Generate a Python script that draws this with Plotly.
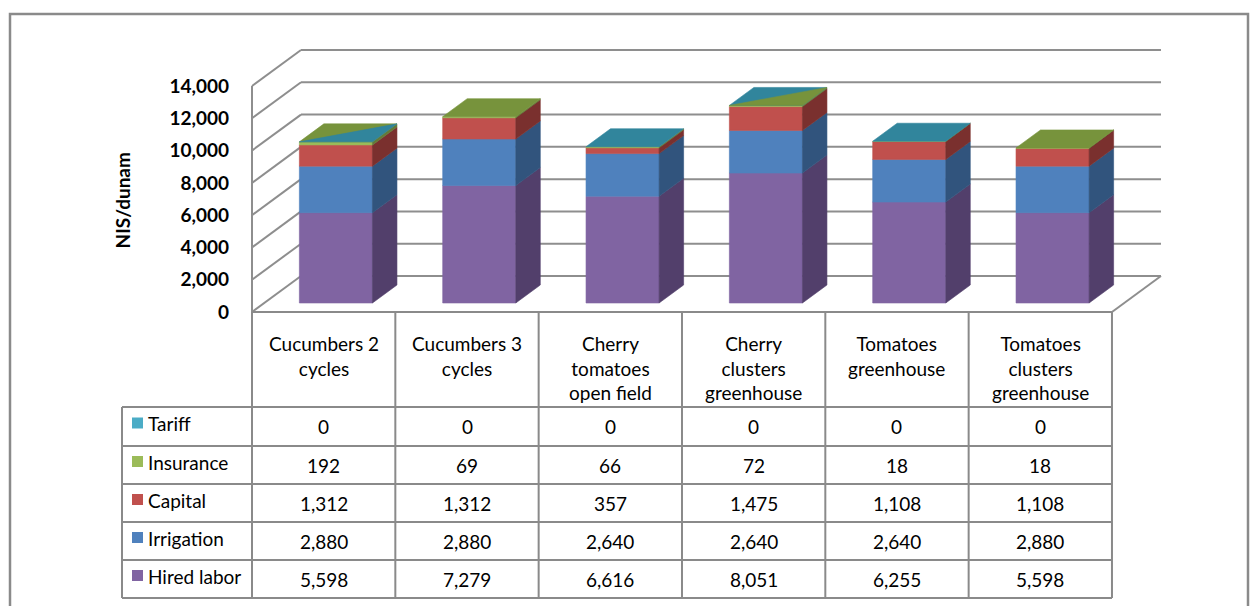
import plotly.graph_objects as go

# ---- data -------------------------------------------------------------
categories = [
    "Cucumbers 2<br>cycles",
    "Cucumbers 3<br>cycles",
    "Cherry<br>tomatoes<br>open field",
    "Cherry<br>clusters<br>greenhouse",
    "Tomatoes<br>greenhouse",
    "Tomatoes<br>clusters<br>greenhouse",
]
hired_labor = [5598, 7279, 6616, 8051, 6255, 5598]
irrigation = [2880, 2880, 2640, 2640, 2640, 2880]
capital = [1312, 1312, 357, 1475, 1108, 1108]
insurance = [192, 69, 66, 72, 18, 18]
tariff = [0, 0, 0, 0, 0, 0]
y_ticks = [0, 2000, 4000, 6000, 8000, 10000, 12000, 14000]
y_max = 14000

# stacking order, bottom to top
series = [
    ("Hired labor", hired_labor),
    ("Irrigation", irrigation),
    ("Capital", capital),
    ("Insurance", insurance),
    ("Tariff", tariff),
]

# ---- styling ----------------------------------------------------------
front_color = {
    "Hired labor": "#8064A2",
    "Irrigation": "#4F81BD",
    "Capital": "#C0504D",
    "Insurance": "#9BBB59",
    "Tariff": "#4BACC6",
}
side_color = {
    "Hired labor": "#523F6B",
    "Irrigation": "#31547D",
    "Capital": "#7A302E",
    "Insurance": "#637A38",
    "Tariff": "#2F7285",
}
OLIVE_TOP = "#77933C"
TEAL_TOP = "#31859C"
# top face of each column: base colour and an optional diagonal half
top_base = [OLIVE_TOP, OLIVE_TOP, TEAL_TOP, TEAL_TOP, TEAL_TOP, OLIVE_TOP]
top_half = [TEAL_TOP, None, None, OLIVE_TOP, None, None]

GRID = "#8E8E8E"
FONT = "Lato"
FS = 19

# ---- geometry (figure pixels -> axis units) ---------------------------
W, H = 1250, 606
X_PX0 = 252.0          # left edge of the floor front
SLOT = 143.33          # pixels per category
Y_PX0 = 312.0          # floor front line
PX_PER = 226.0 / y_max  # pixels per value unit on the front plane

x_range = [(0 - X_PX0) / SLOT, (W - X_PX0) / SLOT]
y_range = [-(H - Y_PX0) / PX_PER, Y_PX0 / PX_PER]

DX = 49.0 / SLOT       # floor depth, x component
DY = 36.0 / PX_PER     # floor depth, y component
HALF = 0.255           # half bar width (category units)
D0, D1 = 0.25, 0.75    # bar depth span as fraction of floor depth


def px_x(px):
    return (px - X_PX0) / SLOT


def paper_y(py):
    return 1 - py / H


n = len(categories)
fig = go.Figure()

# ---- walls and floor --------------------------------------------------
wx, wy = [], []
for v in y_ticks:
    wx += [DX, n + DX, None]
    wy += [v + DY, v + DY, None]
    wx += [0, DX, None]
    wy += [v, v + DY, None]
wx += [0, 0, None, n, n + DX, None]
wy += [0, y_max, None, 0, DY, None]
fig.add_trace(go.Scatter(x=wx, y=wy, mode="lines",
                         line=dict(color=GRID, width=2),
                         hoverinfo="skip", showlegend=False))

# ---- stacked 3-D columns ----------------------------------------------
base = [0.0] * n
for name, vals in series:
    fx, fy, sx, sy = [], [], [], []
    for i, v in enumerate(vals):
        if v <= 0:
            continue
        c = i + 0.5
        b, t = base[i], base[i] + v
        xl = c - HALF + D0 * DX
        xr = c + HALF + D0 * DX
        fx += [xl, xr, xr, xl, xl, None]
        fy += [b + D0 * DY, b + D0 * DY, t + D0 * DY, t + D0 * DY, b + D0 * DY, None]
        xb = c + HALF + D1 * DX
        sx += [xr, xb, xb, xr, xr, None]
        sy += [b + D0 * DY, b + D1 * DY, t + D1 * DY, t + D0 * DY, b + D0 * DY, None]
        base[i] = t
    for xs, ys, col in ((fx, fy, front_color[name]), (sx, sy, side_color[name])):
        if xs:
            fig.add_trace(go.Scatter(x=xs, y=ys, mode="lines", fill="toself",
                                     fillcolor=col, line=dict(color=col, width=0.6),
                                     hoverinfo="skip", showlegend=False))

# top faces
for i in range(n):
    c = i + 0.5
    T = base[i]
    fl = (c - HALF + D0 * DX, T + D0 * DY)
    fr = (c + HALF + D0 * DX, T + D0 * DY)
    br = (c + HALF + D1 * DX, T + D1 * DY)
    bl = (c - HALF + D1 * DX, T + D1 * DY)
    quad = [fl, fr, br, bl, fl]
    fig.add_trace(go.Scatter(x=[p[0] for p in quad], y=[p[1] for p in quad],
                             mode="lines", fill="toself", fillcolor=top_base[i],
                             line=dict(color=top_base[i], width=0.6),
                             hoverinfo="skip", showlegend=False))
    if top_half[i]:
        tri = [fl, br, fr, fl]
        fig.add_trace(go.Scatter(x=[p[0] for p in tri], y=[p[1] for p in tri],
                                 mode="lines", fill="toself", fillcolor=top_half[i],
                                 line=dict(color=top_half[i], width=0.6),
                                 hoverinfo="skip", showlegend=False))

# ---- data table -------------------------------------------------------
shapes = []
row_edges = [312, 407, 446, 484, 522, 560, 598]
legend_left = px_x(122)
tbl = dict(type="line", line=dict(color="#8A8A8A", width=2), yref="paper", xref="x")

for k in range(n + 1):
    shapes.append(dict(tbl, x0=k, x1=k, y0=paper_y(312), y1=paper_y(598)))
shapes.append(dict(tbl, x0=legend_left, x1=legend_left,
                   y0=paper_y(407), y1=paper_y(598)))
shapes.append(dict(tbl, x0=0, x1=n, y0=paper_y(312), y1=paper_y(312)))
for py in row_edges[1:]:
    shapes.append(dict(tbl, x0=legend_left, x1=n, y0=paper_y(py), y1=paper_y(py)))

txt_font = dict(family=FONT, size=FS, color="#000000")
annotations = []
for i, cat in enumerate(categories):
    annotations.append(dict(x=i + 0.5, y=paper_y(330), xref="x", yref="paper",
                            text=cat, showarrow=False, xanchor="center",
                            yanchor="top", font=txt_font))

table_rows = list(reversed(series))  # Tariff on top
for r, (name, vals) in enumerate(table_rows):
    top_px, bot_px = row_edges[r + 1], row_edges[r + 2]
    mid = (top_px + bot_px) / 2
    for i, v in enumerate(vals):
        annotations.append(dict(x=i + 0.5, y=paper_y(mid), xref="x", yref="paper",
                                text=f"{v:,}", showarrow=False,
                                xanchor="center", yanchor="middle", font=txt_font))
    annotations.append(dict(x=px_x(146), y=paper_y(mid - 3), xref="x", yref="paper",
                            text=name, showarrow=False, xanchor="left",
                            yanchor="middle", font=txt_font))
    shapes.append(dict(type="rect", xref="x", yref="paper",
                       x0=px_x(132), x1=px_x(143),
                       y0=paper_y(mid - 9), y1=paper_y(mid + 2),
                       fillcolor=front_color[name], line=dict(width=0)))

# axis title
annotations.append(dict(x=121.5 / W, y=paper_y(201), xref="paper", yref="paper",
                        text="NIS/dunam", textangle=-90, showarrow=False,
                        xanchor="center", yanchor="middle",
                        font=dict(family=FONT, size=FS, color="#000000", weight="bold")))

# outer frame
shapes.append(dict(type="rect", xref="paper", yref="paper",
                   x0=10 / W, x1=1248 / W, y0=-0.02, y1=paper_y(14),
                   line=dict(color="#8A8A8A", width=2.5), fillcolor="rgba(0,0,0,0)"))

fig.update_layout(
    width=W, height=H,
    margin=dict(l=0, r=0, t=0, b=0),
    paper_bgcolor="white", plot_bgcolor="white",
    showlegend=False,
    xaxis=dict(range=x_range, visible=False, fixedrange=True),
    yaxis=dict(range=y_range, anchor="free", position=229 / W,
               tickvals=y_ticks, ticktext=[f"{v:,}" for v in y_ticks],
               ticks="", showgrid=False, zeroline=False, showline=False,
               tickfont=dict(family=FONT, size=FS, color="#000000", weight="bold"),
               fixedrange=True),
    shapes=shapes,
    annotations=annotations,
)

fig.write_html("out.html")
